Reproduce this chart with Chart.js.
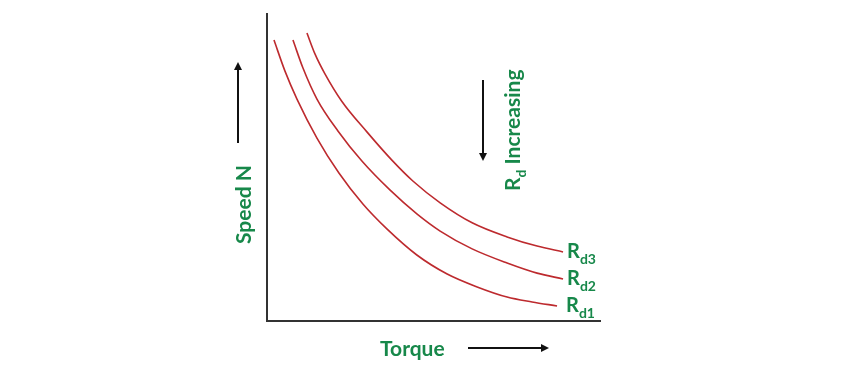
<!DOCTYPE html>
<html>
<head>
<meta charset="utf-8">
<script src="https://cdn.jsdelivr.net/npm/chart.js@4"></script>
<style>
html,body{margin:0;padding:0;background:#fff;}
#wrap{width:865px;height:373px;position:relative;}
</style>
</head>
<body>
<div id="wrap"><canvas id="c" width="865" height="373"></canvas></div>
<script>
// Torque (x) vs Speed N (y), arbitrary units 0-100
const rd1Torque = [2.1, 5.4, 9.0, 15.0, 21.6, 28.8, 36.0, 45.0, 54.1, 63.1, 72.1, 79.6, 87.1];
const rd1Speed  = [91.5, 81.4, 72.3, 59.6, 48.2, 38.1, 30.0, 21.5, 15.3, 11.1, 7.8, 6.2, 4.9];
const rd2Torque = [7.8, 10.8, 15.0, 21.3, 28.5, 36.9, 45.0, 52.0, 61.6, 72.1, 81.1, 88.9];
const rd2Speed  = [91.5, 82.4, 72.3, 61.9, 52.1, 42.7, 34.9, 29.3, 23.5, 18.9, 15.6, 13.7];
const rd3Torque = [12.0, 14.4, 17.4, 22.5, 30.0, 37.5, 43.8, 52.0, 61.6, 72.1, 81.1, 88.9];
const rd3Speed  = [93.8, 87.0, 80.5, 71.5, 61.6, 52.4, 45.6, 38.5, 32.0, 27.4, 24.4, 22.5];
const seriesLabels = ["d1", "d2", "d3"];
const xTitle = "Torque";
const yTitle = "Speed N";
const noteText = "Increasing";

const GREEN = "#17884a";
const RED = "#bd2a2e";
const FONT = "Lato, 'Open Sans', sans-serif";

function pts(xs, ys){ return xs.map((x,i)=>({x:x, y:ys[i]})); }
function ds(xs, ys, lab){
  return {label:lab, data:pts(xs,ys), showLine:true, borderColor:RED, borderWidth:1.6,
          pointRadius:0, cubicInterpolationMode:'monotone', fill:false};
}

function arrow(ctx, x1, y1, x2, y2){
  ctx.save();
  ctx.strokeStyle = "#111"; ctx.fillStyle = "#111"; ctx.lineWidth = 2;
  const a = Math.atan2(y2-y1, x2-x1);
  const hl = 8, hw = 4;
  const bx = x2 - hl*Math.cos(a), by = y2 - hl*Math.sin(a);
  ctx.beginPath(); ctx.moveTo(x1,y1); ctx.lineTo(bx,by); ctx.stroke();
  ctx.beginPath();
  ctx.moveTo(x2,y2);
  ctx.lineTo(bx + hw*Math.sin(a), by - hw*Math.cos(a));
  ctx.lineTo(bx - hw*Math.sin(a), by + hw*Math.cos(a));
  ctx.closePath(); ctx.fill();
  ctx.restore();
}

function rdText(ctx, x, y, sub, big, small){
  ctx.font = "bold " + big + "px " + FONT;
  ctx.fillText("R", x, y);
  const w = ctx.measureText("R").width;
  ctx.font = "bold " + small + "px " + FONT;
  ctx.fillText(sub, x + w, y + big*0.28);
  return w + ctx.measureText(sub).width;
}

const annot = {
  id:'annot',
  afterDraw(chart){
    const ctx = chart.ctx;
    const xs = chart.scales.x, ys = chart.scales.y;
    ctx.save();
    ctx.fillStyle = GREEN;
    ctx.textBaseline = "alphabetic";
    const ends = [[rd1Torque, rd1Speed],[rd2Torque, rd2Speed],[rd3Torque, rd3Speed]];
    ends.forEach((e,i)=>{
      const n = e[0].length-1;
      const px = xs.getPixelForValue(e[0][n]) + (i===0?9:4);
      const py = ys.getPixelForValue(e[1][n]) + 6;
      rdText(ctx, px, py, seriesLabels[i], 20, 14);
    });
    ctx.font = "bold 21px " + FONT;
    ctx.textAlign = "left";
    ctx.fillText(xTitle, 380, 356);
    arrow(ctx, 468, 348, 549, 348);
    ctx.save();
    ctx.translate(251, 244);
    ctx.rotate(-Math.PI/2);
    ctx.font = "bold 21px " + FONT;
    ctx.fillText(yTitle, 0, 0);
    ctx.restore();
    arrow(ctx, 238, 143, 238, 62);
    ctx.save();
    ctx.translate(520, 191);
    ctx.rotate(-Math.PI/2);
    const w = rdText(ctx, 0, 0, "d", 21, 14);
    ctx.font = "bold 21px " + FONT;
    ctx.fillText(" " + noteText, w, 0);
    ctx.restore();
    arrow(ctx, 483, 80, 483, 161);
    ctx.restore();
  }
};

new Chart(document.getElementById('c'), {
  type:'scatter',
  data:{datasets:[ds(rd1Torque, rd1Speed, "Rd1"), ds(rd2Torque, rd2Speed, "Rd2"), ds(rd3Torque, rd3Speed, "Rd3")]},
  options:{
    responsive:false, animation:false,
    layout:{padding:{left:267, right:265, top:14, bottom:52}},
    plugins:{legend:{display:false}, tooltip:{enabled:false}},
    scales:{
      x:{type:'linear', min:0, max:100, grid:{display:false, drawTicks:false},
         ticks:{display:false}, border:{display:true, color:'#333', width:2}},
      y:{type:'linear', min:0, max:100, grid:{display:false, drawTicks:false},
         ticks:{display:false}, border:{display:true, color:'#333', width:2}}
    }
  },
  plugins:[annot]
});
</script>
</body>
</html>
